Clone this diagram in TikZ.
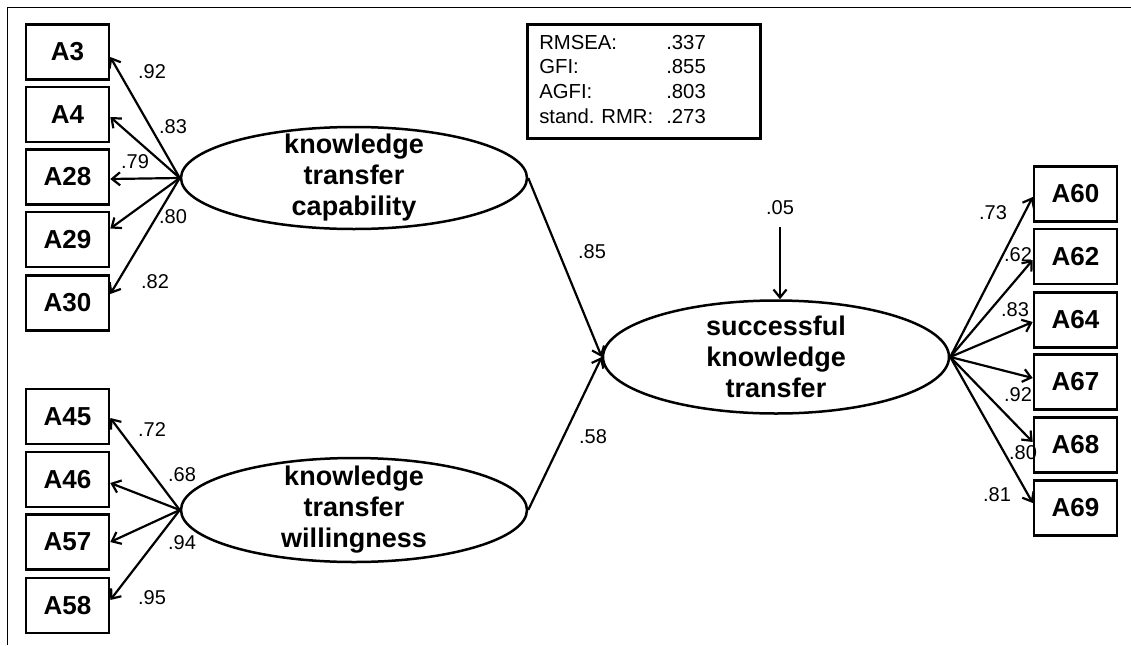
\documentclass[tikz,border=0pt]{standalone}
\usepackage{fontspec}
\setmainfont{Liberation Sans}
\frenchspacing
\usetikzlibrary{shapes.geometric,arrows.meta}
\begin{document}
\begin{tikzpicture}[x=1pt,y=-1pt,
  obs/.style={draw, line width=2.6pt, minimum width=83pt, minimum height=55pt,
    inner sep=0pt, font=\fontsize{26}{30}\selectfont\bfseries},
  latent/.style={draw, ellipse, line width=2.5pt, inner sep=0pt, minimum width=346pt},
  ltext/.style={align=center, inner sep=0pt, font=\fontsize{27}{31}\selectfont\bfseries},
  coef/.style={font=\fontsize{20}{24}\selectfont, inner sep=0pt},
  load/.style={line width=2.2pt, -{Straight Barb[length=8pt,width=13pt]}},
]
\useasboundingbox (0,0) rectangle (1131,645);

% frame
\draw[line width=1pt] (7,645) -- (7,7) -- (1131,7);

% fit indices
\node[draw, line width=2.6pt, anchor=north west, inner xsep=12pt, inner ysep=0pt,
  text width=209pt, minimum height=114pt, font=\fontsize{20.3}{24.7}\selectfont]
  (fit) at (526,23) {%
  \begin{tabular}{@{}p{127pt}@{}l@{}}
  RMSEA: & .337\\
  GFI: & .855\\
  AGFI: & .803\\
  stand. RMR: & .273
  \end{tabular}};

% latent variables
\node[latent, minimum height=102pt,
  label={[ltext]center:{knowledge\\transfer\\capability}}] (cap) at (354,178) {};
\node[latent, minimum height=104pt,
  label={[ltext]center:{knowledge\\transfer\\willingness}}] (will) at (354,510) {};
\node[latent, minimum height=113pt,
  label={[ltext]center:{successful\\knowledge\\transfer}}] (succ) at (776,357) {};

% indicators of capability
\node[obs] (A3)  at (67.5,52)    {A3};
\node[obs] (A4)  at (67.5,114.5) {A4};
\node[obs] (A28) at (67.5,177)   {A28};
\node[obs] (A29) at (67.5,239.5) {A29};
\node[obs] (A30) at (67.5,303)   {A30};

% indicators of willingness
\node[obs] (A45) at (67.5,416.5) {A45};
\node[obs] (A46) at (67.5,479.5) {A46};
\node[obs] (A57) at (67.5,542)   {A57};
\node[obs] (A58) at (67.5,605.5) {A58};

% indicators of successful transfer
\node[obs] (A60) at (1075.5,194)   {A60};
\node[obs] (A62) at (1075.5,256.5) {A62};
\node[obs] (A64) at (1075.5,320)   {A64};
\node[obs] (A67) at (1075.5,382)   {A67};
\node[obs] (A68) at (1075.5,445)   {A68};
\node[obs] (A69) at (1075.5,508)   {A69};

% loadings
\draw[load] (cap.west) -- ([yshift=-5pt]A3.east);
\draw[load] (cap.west) -- ([yshift=-2.5pt]A4.east);
\draw[load] (cap.west) -- ([yshift=-2pt]A28.east);
\draw[load] (cap.west) -- ([yshift=11pt]A29.east);
\draw[load] (cap.west) -- ([yshift=9pt]A30.east);

\draw[load] (will.west) -- ([yshift=-1.5pt]A45.east);
\draw[load] (will.west) -- ([yshift=-3.5pt]A46.east);
\draw[load] (will.west) -- (A57.east);
\draw[load] (will.west) -- ([yshift=5.5pt]A58.east);

\draw[load] (succ.east) -- ([yshift=-3pt]A60.west);
\draw[load] (succ.east) -- ([yshift=-3.5pt]A62.west);
\draw[load] (succ.east) -- ([yshift=-2pt]A64.west);
\draw[load] (succ.east) -- ([yshift=4pt]A67.west);
\draw[load] (succ.east) -- ([yshift=3pt]A68.west);
\draw[load] (succ.east) -- ([yshift=5pt]A69.west);

% structural paths
\draw[load] (cap.east) -- (succ.west);
\draw[load] (will.east) -- (succ.west);
\coordinate (err) at (780,227);
\draw[load] (err) -- (succ.north -| err);

% coefficients
\node[coef] (c3)  at (152,72)  {.92};
\node[coef] (c4)  at (173,127) {.83};
\node[coef] (c28) at (135,162) {.79};
\node[coef] (c29) at (173,217) {.80};
\node[coef] (c30) at (155,282) {.82};

\node[coef] (c45) at (152,430) {.72};
\node[coef] (c46) at (182,475) {.68};
\node[coef] (c57) at (182,543) {.94};
\node[coef] (c58) at (152,598) {.95};

\node[coef] (c60) at (993,213)  {.73};
\node[coef] (c62) at (1018,255) {.62};
\node[coef] (c64) at (1015,310) {.83};
\node[coef] (c67) at (1018,395) {.92};
\node[coef] (c68) at (1023,453) {.80};
\node[coef] (c69) at (997,495)  {.81};

\node[coef] (ccap)  at (592,252) {.85};
\node[coef] (cwill) at (593,437) {.58};
\node[coef] (cerr)  at (780,208) {.05};
\end{tikzpicture}
\end{document}
